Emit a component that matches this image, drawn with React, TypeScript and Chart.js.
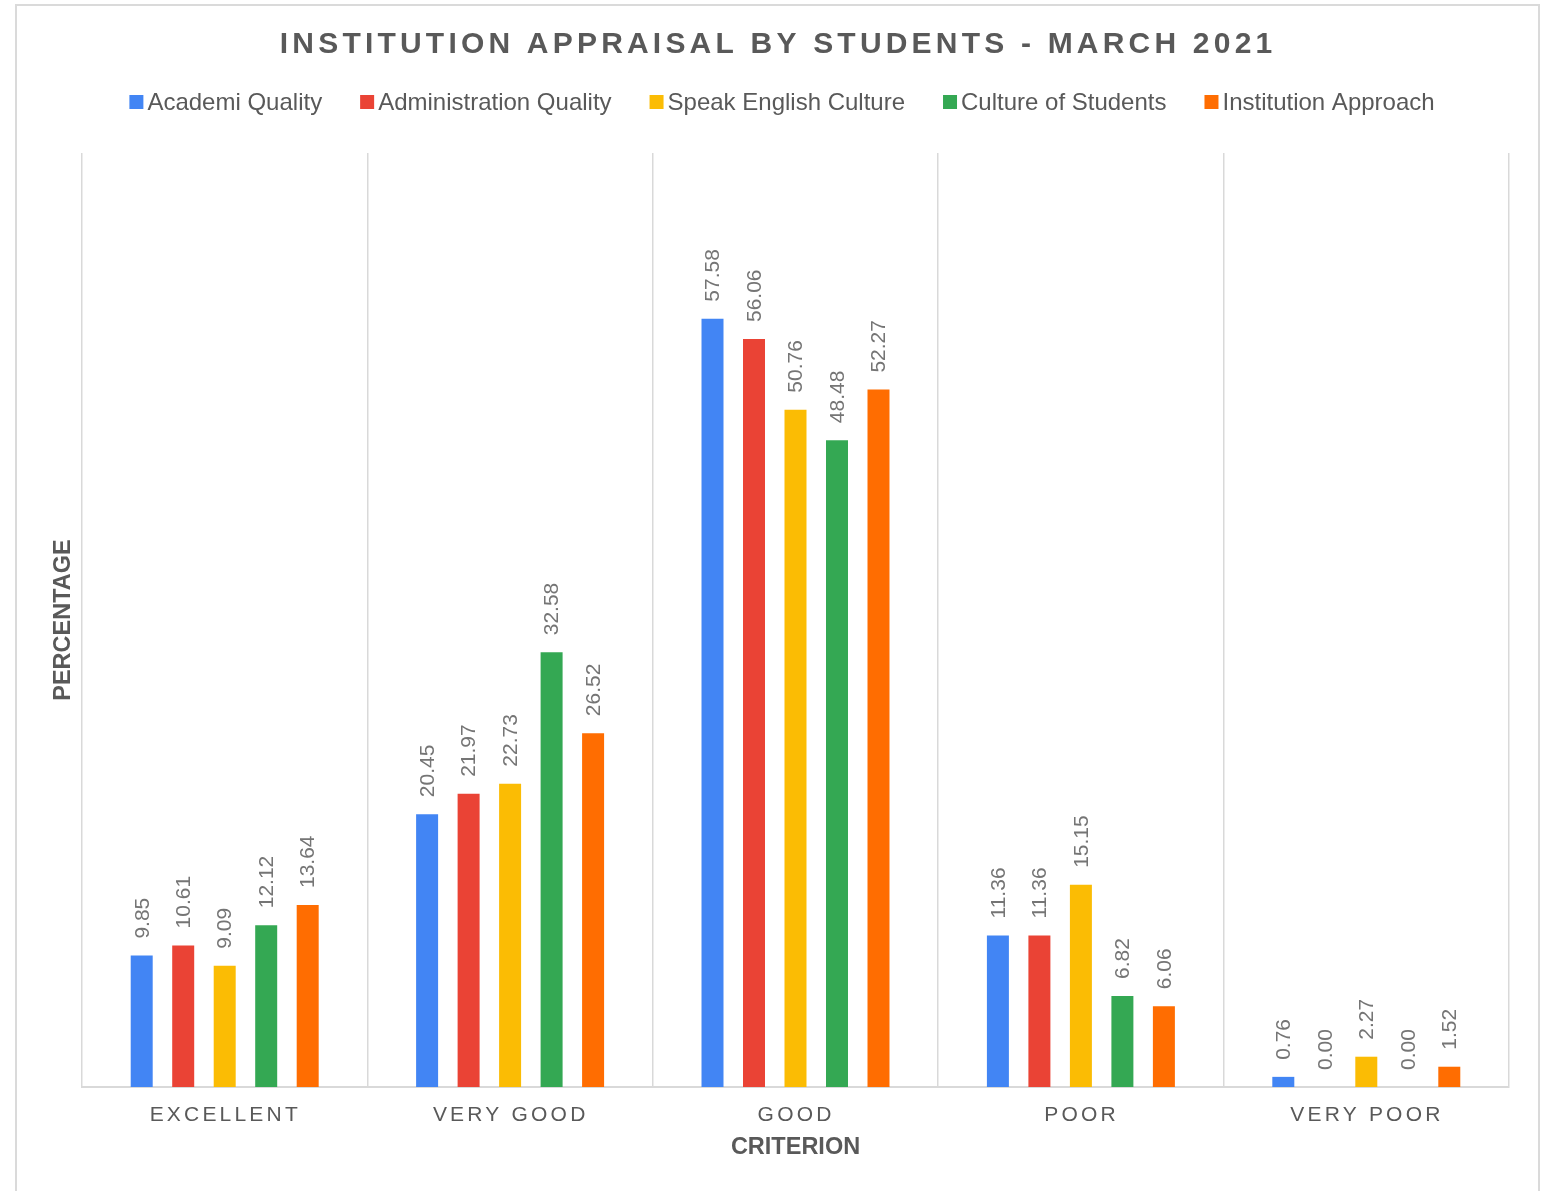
import React, { useEffect, useRef } from "react";
import { Chart, registerables } from "chart.js";

Chart.register(...registerables);

const categories = ["EXCELLENT", "VERY GOOD", "GOOD", "POOR", "VERY POOR"];
const seriesNames = [
  "Academi Quality",
  "Administration Quality",
  "Speak English Culture",
  "Culture of Students",
  "Institution Approach",
];
const seriesColors = ["#4285F4", "#EA4335", "#FBBC04", "#34A853", "#FF6D01"];
const academiQuality = [9.85, 20.45, 57.58, 11.36, 0.76];
const administrationQuality = [10.61, 21.97, 56.06, 11.36, 0.0];
const speakEnglishCulture = [9.09, 22.73, 50.76, 15.15, 2.27];
const cultureOfStudents = [12.12, 32.58, 48.48, 6.82, 0.0];
const institutionApproach = [13.64, 26.52, 52.27, 6.06, 1.52];
const seriesValues = [
  academiQuality,
  administrationQuality,
  speakEnglishCulture,
  cultureOfStudents,
  institutionApproach,
];
const titleText = "INSTITUTION APPRAISAL BY STUDENTS - MARCH 2021";
const xAxisTitle = "CRITERION";
const yAxisTitle = "PERCENTAGE";
const yMin = 0;
const yMax = 70;

const FONT = "'Liberation Sans', Arial, sans-serif";
const TEXT = "#595959";
const LABEL = "#757575";
const GRID = "#d9d9d9";

function drawSpaced(ctx: CanvasRenderingContext2D, text: string, cx: number, cy: number, ls: number) {
  ctx.save();
  (ctx as any).letterSpacing = ls + "px";
  ctx.textAlign = "left";
  const w = ctx.measureText(text).width;
  ctx.fillText(text, cx - (w - ls) / 2, cy);
  ctx.restore();
}

const decorPlugin = {
  id: "decor",
  beforeDraw(chart: any) {
    const ctx: CanvasRenderingContext2D = chart.ctx;
    ctx.save();
    ctx.strokeStyle = "#dadada";
    ctx.lineWidth = 2;
    ctx.strokeRect(16, 5, 1523, 1300);
    ctx.restore();
  },
  afterDatasetsDraw(chart: any) {
    const ctx: CanvasRenderingContext2D = chart.ctx;
    ctx.save();
    ctx.fillStyle = LABEL;
    ctx.font = `21px ${FONT}`;
    ctx.textAlign = "left";
    ctx.textBaseline = "middle";
    chart.data.datasets.forEach((ds: any, i: number) => {
      const meta = chart.getDatasetMeta(i);
      meta.data.forEach((bar: any, j: number) => {
        const v = ds.data[j] as number;
        ctx.save();
        ctx.translate(bar.x + 1, bar.y - 17);
        ctx.rotate(-Math.PI / 2);
        ctx.fillText(v.toFixed(2), 0, 0);
        ctx.restore();
      });
    });
    ctx.restore();
  },
  afterDraw(chart: any) {
    const ctx: CanvasRenderingContext2D = chart.ctx;
    const area = chart.chartArea;
    const xScale = chart.scales.x;
    ctx.save();
    ctx.textBaseline = "middle";
    // Title
    ctx.fillStyle = TEXT;
    ctx.font = `bold 30px ${FONT}`;
    drawSpaced(ctx, titleText, 776, 45, 4.2);

    // Legend
    ctx.font = `24px ${FONT}`;
    const box = 14;
    const gapBoxText = 4;
    const gapItems = 38;
    const widths = seriesNames.map((n) => ctx.measureText(n).width);
    const total =
      widths.reduce((a, w) => a + box + gapBoxText + w, 0) + gapItems * (seriesNames.length - 1);
    let x = 782 - total / 2;
    const ly = 102;
    seriesNames.forEach((n, i) => {
      ctx.fillStyle = seriesColors[i];
      ctx.fillRect(x, ly - box / 2, box, box);
      ctx.fillStyle = TEXT;
      ctx.textAlign = "left";
      ctx.fillText(n, x + box + gapBoxText, ly + 1);
      x += box + gapBoxText + widths[i] + gapItems;
    });

    // X tick labels
    ctx.font = `21px ${FONT}`;
    ctx.fillStyle = TEXT;
    categories.forEach((c, i) => {
      const px = xScale.getPixelForValue(i);
      drawSpaced(ctx, c, px - 1, area.bottom + 28, 3.2);
    });

    // Axis titles
    ctx.font = `bold 23.5px ${FONT}`;
    ctx.textAlign = "center";
    ctx.fillText(xAxisTitle, (area.left + area.right) / 2, area.bottom + 61);
    ctx.save();
    ctx.translate(64, (area.top + area.bottom) / 2);
    ctx.rotate(-Math.PI / 2);
    ctx.fillText(yAxisTitle, 0, 0);
    ctx.restore();
    ctx.restore();
  },
};

export default function App() {
  const ref = useRef<HTMLCanvasElement | null>(null);
  useEffect(() => {
    if (!ref.current) return;
    const chart = new Chart(ref.current, {
      type: "bar",
      data: {
        labels: categories,
        datasets: seriesNames.map((name, i) => ({
          label: name,
          data: seriesValues[i],
          backgroundColor: seriesColors[i],
          borderWidth: 0,
          categoryPercentage: 0.727,
          barPercentage: 0.53,
        })),
      },
      options: {
        animation: false,
        responsive: false,
        maintainAspectRatio: false,
        layout: { padding: { left: 82, right: 48, top: 153, bottom: 0 } },
        plugins: {
          legend: { display: false },
          title: { display: false },
          tooltip: { enabled: false },
        },
        scales: {
          x: {
            offset: true,
            grid: { offset: true, color: GRID, lineWidth: 1.5, drawTicks: false },
            border: { color: GRID, width: 2 },
            ticks: { display: false },
            afterFit(scale: any) {
              scale.height = 104;
            },
          },
          y: {
            display: false,
            min: yMin,
            max: yMax,
          },
        },
      },
      plugins: [decorPlugin],
    });
    return () => chart.destroy();
  }, []);
  return (
    <canvas
      ref={ref}
      width={1557}
      height={1191}
      style={{ position: "fixed", left: 0, top: 0, width: 1557, height: 1191, display: "block", background: "#fff" }}
    />
  );
}
